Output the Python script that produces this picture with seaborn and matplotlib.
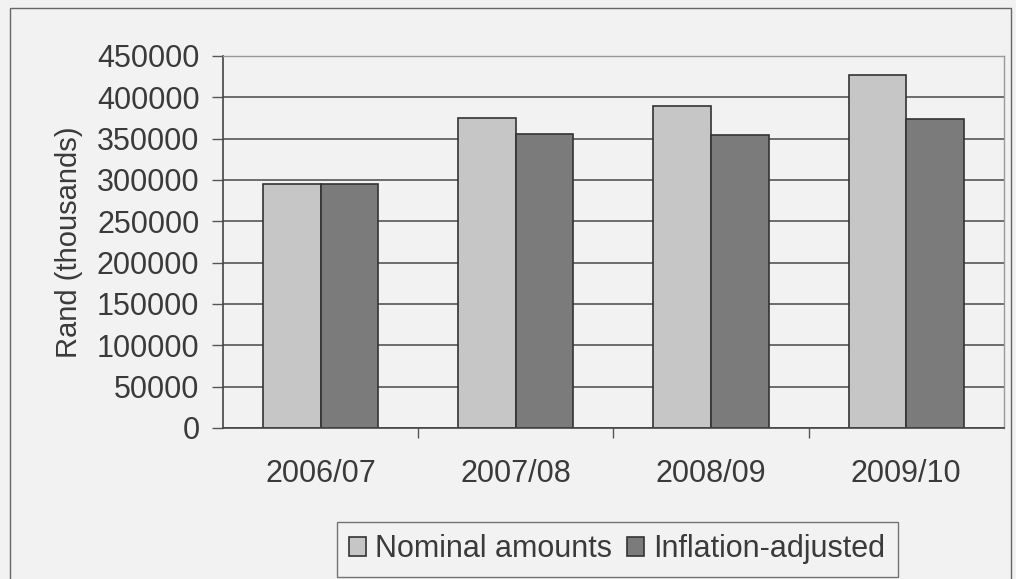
import pandas as pd
import numpy as np
from matplotlib import pyplot as plt
from matplotlib.patches import Rectangle
import seaborn as sns

years = ['2006/07', '2007/08', '2008/09', '2009/10']
nominal = [295000, 375000, 389000, 427000]
adjusted = [295000, 356000, 355000, 374000]
series = ['Nominal amounts', 'Inflation-adjusted']

df = pd.DataFrame({
    'year': years * 2,
    'value': nominal + adjusted,
    'series': [series[0]] * 4 + [series[1]] * 4,
})

sns.set_style('white')
plt.rcParams['font.family'] = ['Liberation Sans', 'DejaVu Sans']

bg = '#f2f2f2'
txt = '#3a3a3a'
fs = 22
fig = plt.figure(figsize=(10.16, 5.79), dpi=100, facecolor=bg)
ax = fig.add_axes([0.2195, 0.2608, 0.7685, 0.6425])
ax.set_facecolor(bg)

sns.barplot(data=df, x='year', y='value', hue='series', hue_order=series,
            palette=['#c6c6c6', '#7b7b7b'], width=0.59, gap=0,
            edgecolor='#333333', linewidth=1.2, ax=ax, legend=True)

ax.set_ylim(0, 450000)
ax.set_xlim(-0.5, 3.5)
ax.set_yticks(np.arange(0, 450001, 50000))
ax.set_yticklabels([str(v) for v in range(0, 450001, 50000)], fontsize=fs, color=txt)
ax.tick_params(axis='y', length=8, width=1, color='#555555', pad=9, left=True)
ax.set_xticks(range(4))
ax.set_xticklabels(years, fontsize=fs, color=txt)
ax.tick_params(axis='x', length=0, pad=22)
ax.set_xticks([0.5, 1.5, 2.5], minor=True)
ax.tick_params(axis='x', which='minor', length=7, width=1, color='#555555', bottom=True)
ax.set_xlabel('')
ax.set_ylabel('Rand (thousands)', fontsize=fs - 1, color=txt, labelpad=10)

ax.yaxis.grid(True, color='#555555', linewidth=1.2)
ax.set_axisbelow(True)
for s in ['left', 'bottom']:
    ax.spines[s].set_color('#444444')
    ax.spines[s].set_linewidth(1.2)
for s in ['top', 'right']:
    ax.spines[s].set_color('#999999')
    ax.spines[s].set_linewidth(1)

leg = ax.legend(loc='upper center', bbox_to_anchor=(0.505, -0.253), ncol=2,
                fontsize=fs, frameon=True, fancybox=False, edgecolor='#555555',
                facecolor=bg, handlelength=0.55, handleheight=0.55,
                handletextpad=0.3, columnspacing=0.5, borderpad=0.4,
                borderaxespad=0)
for t in leg.get_texts():
    t.set_color(txt)

fig.patches.append(Rectangle((0.010, -0.01), 0.985, 0.997, transform=fig.transFigure,
                             fill=False, edgecolor='#666666', linewidth=1))

fig.savefig('out.png', dpi=100, facecolor=bg)
